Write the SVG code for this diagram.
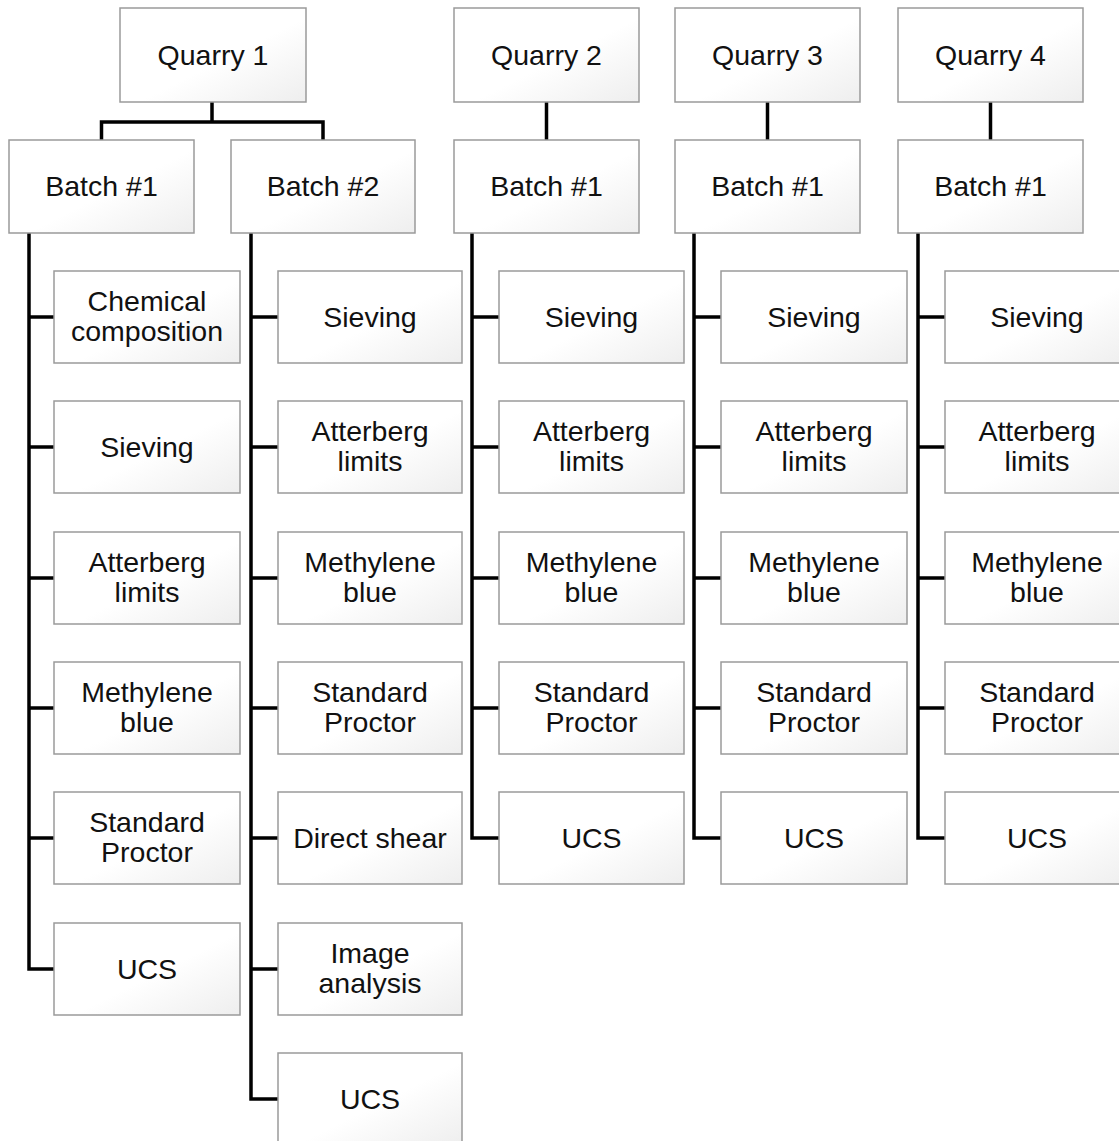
<svg xmlns="http://www.w3.org/2000/svg" width="1119" height="1141" viewBox="0 0 1119 1141">
  <style>
    .box { fill: url(#boxFill); stroke: #9a9a9a; stroke-width: 1.5; }
    .lbl { font-family: "Liberation Sans", Arial, sans-serif; font-size: 28.5px; fill: #111; text-anchor: middle; }
    .wire { fill: none; stroke: #000; stroke-width: 3.5; stroke-linejoin: miter; }
  </style>
  <defs>
    <linearGradient id="boxFill" x1="0" y1="0" x2="1" y2="1">
      <stop offset="0" stop-color="#ffffff"/>
      <stop offset="0.55" stop-color="#ffffff"/>
      <stop offset="1" stop-color="#eeeeee"/>
    </linearGradient>
  </defs>
  <rect width="1119" height="1141" fill="#ffffff"/>

  <!-- connectors -->
  <g id="connectors" class="wire">
    <!-- quarry to batch -->
    <path d="M212 102 V122 M101.5 140 V122 H323 V140"/>
    <path d="M546.5 102 V140"/>
    <path d="M767.5 102 V140"/>
    <path d="M990.5 102 V140"/>
    <!-- Quarry 1, Batch #1 -->
    <path d="M29 233 V969 H54 M29 317 H54 M29 447 H54 M29 578 H54 M29 708 H54 M29 838 H54"/>
    <!-- Quarry 1, Batch #2 -->
    <path d="M251 233 V1099 H278 M251 317 H278 M251 447 H278 M251 578 H278 M251 708 H278 M251 838 H278 M251 969 H278"/>
    <!-- Quarry 2, Batch #1 -->
    <path d="M472 233 V838 H499 M472 317 H499 M472 447 H499 M472 578 H499 M472 708 H499"/>
    <!-- Quarry 3, Batch #1 -->
    <path d="M694 233 V838 H721 M694 317 H721 M694 447 H721 M694 578 H721 M694 708 H721"/>
    <!-- Quarry 4, Batch #1 -->
    <path d="M918 233 V838 H945 M918 317 H945 M918 447 H945 M918 578 H945 M918 708 H945"/>
  </g>

  <!-- quarries -->
  <g id="quarry1"><rect class="box" x="120" y="8" width="186" height="94"/><text class="lbl" x="213" y="64.5">Quarry 1</text></g>
  <g id="quarry2"><rect class="box" x="454" y="8" width="185" height="94"/><text class="lbl" x="546.5" y="64.5">Quarry 2</text></g>
  <g id="quarry3"><rect class="box" x="675" y="8" width="185" height="94"/><text class="lbl" x="767.5" y="64.5">Quarry 3</text></g>
  <g id="quarry4"><rect class="box" x="898" y="8" width="185" height="94"/><text class="lbl" x="990.5" y="64.5">Quarry 4</text></g>

  <!-- batches -->
  <g id="q1-batch1"><rect class="box" x="9" y="140" width="185" height="93"/><text class="lbl" x="101.5" y="196">Batch #1</text></g>
  <g id="q1-batch2"><rect class="box" x="231" y="140" width="184" height="93"/><text class="lbl" x="323" y="196">Batch #2</text></g>
  <g id="q2-batch1"><rect class="box" x="454" y="140" width="185" height="93"/><text class="lbl" x="546.5" y="196">Batch #1</text></g>
  <g id="q3-batch1"><rect class="box" x="675" y="140" width="185" height="93"/><text class="lbl" x="767.5" y="196">Batch #1</text></g>
  <g id="q4-batch1"><rect class="box" x="898" y="140" width="185" height="93"/><text class="lbl" x="990.5" y="196">Batch #1</text></g>

  <!-- Quarry 1, Batch #1 tests -->
  <g id="q1b1-chemical"><rect class="box" x="54" y="271" width="186" height="92"/><text class="lbl" x="147" y="311">Chemical</text><text class="lbl" x="147" y="341">composition</text></g>
  <g id="q1b1-sieving"><rect class="box" x="54" y="401" width="186" height="92"/><text class="lbl" x="147" y="456.5">Sieving</text></g>
  <g id="q1b1-atterberg"><rect class="box" x="54" y="532" width="186" height="92"/><text class="lbl" x="147" y="572">Atterberg</text><text class="lbl" x="147" y="602">limits</text></g>
  <g id="q1b1-methylene"><rect class="box" x="54" y="662" width="186" height="92"/><text class="lbl" x="147" y="702">Methylene</text><text class="lbl" x="147" y="732">blue</text></g>
  <g id="q1b1-proctor"><rect class="box" x="54" y="792" width="186" height="92"/><text class="lbl" x="147" y="832">Standard</text><text class="lbl" x="147" y="862">Proctor</text></g>
  <g id="q1b1-ucs"><rect class="box" x="54" y="923" width="186" height="92"/><text class="lbl" x="147" y="978.5">UCS</text></g>

  <!-- Quarry 1, Batch #2 tests -->
  <g id="q1b2-sieving"><rect class="box" x="278" y="271" width="184" height="92"/><text class="lbl" x="370" y="326.5">Sieving</text></g>
  <g id="q1b2-atterberg"><rect class="box" x="278" y="401" width="184" height="92"/><text class="lbl" x="370" y="441">Atterberg</text><text class="lbl" x="370" y="471">limits</text></g>
  <g id="q1b2-methylene"><rect class="box" x="278" y="532" width="184" height="92"/><text class="lbl" x="370" y="572">Methylene</text><text class="lbl" x="370" y="602">blue</text></g>
  <g id="q1b2-proctor"><rect class="box" x="278" y="662" width="184" height="92"/><text class="lbl" x="370" y="702">Standard</text><text class="lbl" x="370" y="732">Proctor</text></g>
  <g id="q1b2-shear"><rect class="box" x="278" y="792" width="184" height="92"/><text class="lbl" x="370" y="847.5">Direct shear</text></g>
  <g id="q1b2-image"><rect class="box" x="278" y="923" width="184" height="92"/><text class="lbl" x="370" y="963">Image</text><text class="lbl" x="370" y="993">analysis</text></g>
  <g id="q1b2-ucs"><rect class="box" x="278" y="1053" width="184" height="92"/><text class="lbl" x="370" y="1108.5">UCS</text></g>

  <!-- Quarry 2, Batch #1 tests -->
  <g id="q2b1-sieving"><rect class="box" x="499" y="271" width="185" height="92"/><text class="lbl" x="591.5" y="326.5">Sieving</text></g>
  <g id="q2b1-atterberg"><rect class="box" x="499" y="401" width="185" height="92"/><text class="lbl" x="591.5" y="441">Atterberg</text><text class="lbl" x="591.5" y="471">limits</text></g>
  <g id="q2b1-methylene"><rect class="box" x="499" y="532" width="185" height="92"/><text class="lbl" x="591.5" y="572">Methylene</text><text class="lbl" x="591.5" y="602">blue</text></g>
  <g id="q2b1-proctor"><rect class="box" x="499" y="662" width="185" height="92"/><text class="lbl" x="591.5" y="702">Standard</text><text class="lbl" x="591.5" y="732">Proctor</text></g>
  <g id="q2b1-ucs"><rect class="box" x="499" y="792" width="185" height="92"/><text class="lbl" x="591.5" y="847.5">UCS</text></g>

  <!-- Quarry 3, Batch #1 tests -->
  <g id="q3b1-sieving"><rect class="box" x="721" y="271" width="186" height="92"/><text class="lbl" x="814" y="326.5">Sieving</text></g>
  <g id="q3b1-atterberg"><rect class="box" x="721" y="401" width="186" height="92"/><text class="lbl" x="814" y="441">Atterberg</text><text class="lbl" x="814" y="471">limits</text></g>
  <g id="q3b1-methylene"><rect class="box" x="721" y="532" width="186" height="92"/><text class="lbl" x="814" y="572">Methylene</text><text class="lbl" x="814" y="602">blue</text></g>
  <g id="q3b1-proctor"><rect class="box" x="721" y="662" width="186" height="92"/><text class="lbl" x="814" y="702">Standard</text><text class="lbl" x="814" y="732">Proctor</text></g>
  <g id="q3b1-ucs"><rect class="box" x="721" y="792" width="186" height="92"/><text class="lbl" x="814" y="847.5">UCS</text></g>

  <!-- Quarry 4, Batch #1 tests -->
  <g id="q4b1-sieving"><rect class="box" x="945" y="271" width="186" height="92"/><text class="lbl" x="1037" y="326.5">Sieving</text></g>
  <g id="q4b1-atterberg"><rect class="box" x="945" y="401" width="186" height="92"/><text class="lbl" x="1037" y="441">Atterberg</text><text class="lbl" x="1037" y="471">limits</text></g>
  <g id="q4b1-methylene"><rect class="box" x="945" y="532" width="186" height="92"/><text class="lbl" x="1037" y="572">Methylene</text><text class="lbl" x="1037" y="602">blue</text></g>
  <g id="q4b1-proctor"><rect class="box" x="945" y="662" width="186" height="92"/><text class="lbl" x="1037" y="702">Standard</text><text class="lbl" x="1037" y="732">Proctor</text></g>
  <g id="q4b1-ucs"><rect class="box" x="945" y="792" width="186" height="92"/><text class="lbl" x="1037" y="847.5">UCS</text></g>
</svg>
